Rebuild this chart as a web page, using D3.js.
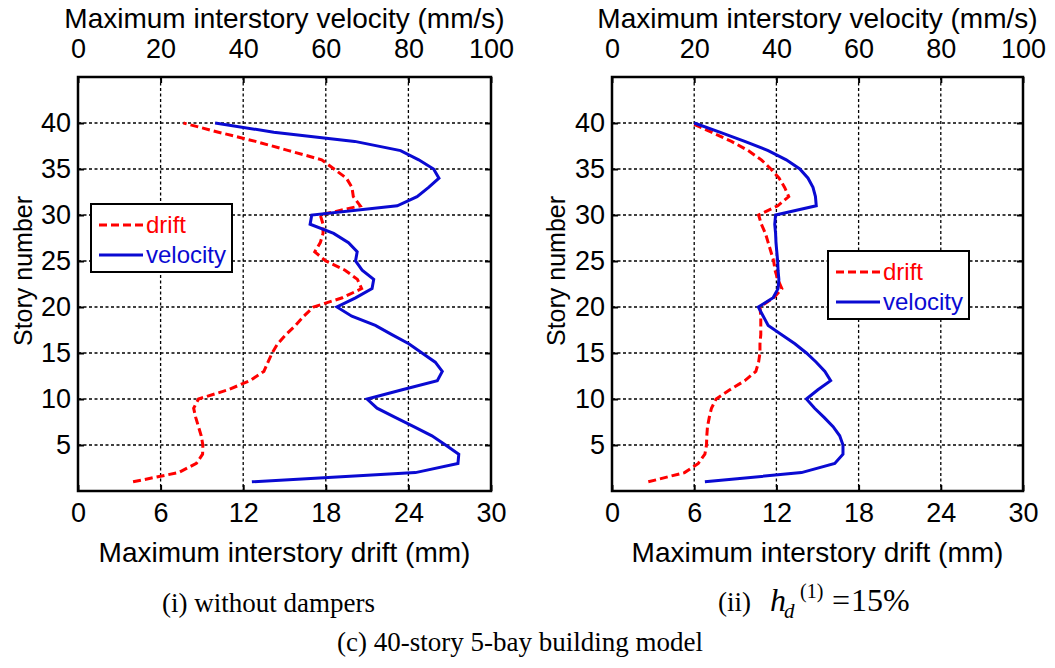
<!DOCTYPE html>
<html>
<head>
<meta charset="utf-8">
<script src="https://cdn.jsdelivr.net/npm/d3@7"></script>
<style>
  body { margin: 0; background: #fff; }
  svg text { font-family: "Liberation Sans", Arial, sans-serif; }
  svg text.caption { font-family: "Liberation Serif", "Times New Roman", serif; }
</style>
</head>
<body>
<div id="chart"></div>
<script>
// Data (story 1 -> story 40)
const stories = [1, 2, 3, 4, 5, 6, 7, 8, 9, 10, 11, 12, 13, 14, 15, 16, 17, 18, 19, 20,
  21, 22, 23, 24, 25, 26, 27, 28, 29, 30, 31, 32, 33, 34, 35, 36, 37, 38, 39, 40]

const driftNoDampers = [4.0, 7.3, 8.6, 9.05, 9.07, 8.95, 8.75, 8.55, 8.4, 8.75,
  10.9, 12.5, 13.5, 13.8, 14.1, 14.5, 15.1, 15.8, 16.4, 17.1,
  19.2, 20.6, 20.3, 19.4, 18.0, 17.2, 17.6, 17.8, 17.8, 17.6,
  20.5, 20.0, 19.9, 19.5, 18.6, 17.7, 15.3, 12.9, 10.2, 7.66]

const velocityNoDampers = [42.1, 81.7, 92.0, 92.2, 89.0, 85.7, 81.3, 76.8, 72.4, 70.0,
  78.5, 87.0, 88.2, 86.5, 83.3, 80.1, 76.0, 72.0, 66.3, 62.7,
  67.2, 71.2, 71.6, 68.8, 67.2, 67.6, 65.5, 61.9, 56.2, 56.6,
  77.3, 82.1, 84.9, 87.4, 86.1, 82.5, 78.1, 67.0, 47.4, 33.2]

const driftDampers = [2.65, 5.3, 6.3, 6.78, 6.9, 6.92, 6.97, 7.1, 7.26, 7.6,
  8.6, 9.7, 10.5, 10.7, 10.8, 10.8, 10.86, 10.86, 10.86, 10.8,
  11.8, 12.4, 12.1, 11.9, 11.8, 11.6, 11.4, 11.2, 10.9, 10.7,
  12.1, 12.9, 12.6, 12.2, 11.6, 10.9, 9.94, 8.72, 7.26, 5.76]

const velocityDampers = [22.6, 46.1, 54.2, 56.2, 56.2, 55.4, 53.8, 51.6, 49.3, 47.3,
  50.1, 53.2, 51.8, 49.7, 47.3, 44.5, 41.2, 38.0, 36.8, 35.6,
  39.2, 40.4, 40.6, 40.4, 40.3, 40.1, 39.9, 39.8, 39.6, 39.8,
  49.7, 49.5, 48.9, 47.7, 45.7, 42.4, 38.0, 32.3, 26.2, 20.0]

const seriesNames = ['drift', 'velocity']
const driftTicks = [0, 6, 12, 18, 24, 30]
const velocityTicks = [0, 20, 40, 60, 80, 100]
const storyTicks = [5, 10, 15, 20, 25, 30, 35, 40]

const driftTitle = 'Maximum interstory drift (mm)'
const velocityTitle = 'Maximum interstory velocity (mm/s)'
const storyTitle = 'Story number'

function draw() {
  // Dimensions
  let dimensions = {
    width: 1055,
    height: 668,
    top: 77,
    bottom: 491,
  }

  const red = '#ff0000'
  const blue = '#0a0ad2'

  const panels = [
    { left: 78, right: 491, drift: driftNoDampers, velocity: velocityNoDampers, legendX: 91, legendY: 204, labelX: 32 },
    { left: 612, right: 1023, drift: driftDampers, velocity: velocityDampers, legendX: 828, legendY: 251, labelX: 565 },
  ]

  const svg = d3.select('#chart')
    .append('svg')
    .attr('width', dimensions.width)
    .attr('height', dimensions.height)

  const y = d3.scaleLinear()
    .domain([0, 45])
    .range([dimensions.bottom, dimensions.top])

  panels.forEach(p => {
    const g = svg.append('g')

    // Scales
    const xDrift = d3.scaleLinear().domain([0, 30]).range([p.left, p.right])
    const xVel = d3.scaleLinear().domain([0, 100]).range([p.left, p.right])

    // Grid
    const grid = g.append('g')
      .attr('stroke', '#000')
      .attr('stroke-width', 1.3)
      .attr('stroke-dasharray', '3,2.5')
    grid.selectAll('.vgrid')
      .data(driftTicks.slice(1, -1))
      .join('line')
      .attr('x1', d => xDrift(d)).attr('x2', d => xDrift(d))
      .attr('y1', dimensions.top).attr('y2', dimensions.bottom)
    grid.selectAll('.hgrid')
      .data(storyTicks)
      .join('line')
      .attr('x1', p.left).attr('x2', p.right)
      .attr('y1', d => y(d)).attr('y2', d => y(d))

    // Lines
    const driftLine = d3.line()
      .x(d => xDrift(d[1]))
      .y(d => y(d[0]))
    const velLine = d3.line()
      .x(d => xVel(d[1]))
      .y(d => y(d[0]))

    g.append('path')
      .attr('d', driftLine(d3.zip(stories, p.drift)))
      .attr('fill', 'none')
      .attr('stroke', red)
      .attr('stroke-width', 3)
      .attr('stroke-dasharray', '8,4')
    g.append('path')
      .attr('d', velLine(d3.zip(stories, p.velocity)))
      .attr('fill', 'none')
      .attr('stroke', blue)
      .attr('stroke-width', 3)

    // Axes
    const styleAxis = (ax, size) => {
      ax.attr('font-family', null).attr('font-size', size)
      ax.select('.domain').remove()
      ax.selectAll('.tick line').attr('stroke-width', 2)
      ax.selectAll('.tick text').attr('fill', '#000')
    }

    g.append('g')
      .attr('transform', `translate(0, ${dimensions.bottom})`)
      .call(d3.axisBottom(xDrift).tickValues(driftTicks).tickSize(-6).tickPadding(12))
      .call(ax => styleAxis(ax, 27))
    g.append('g')
      .attr('transform', `translate(0, ${dimensions.top})`)
      .call(d3.axisTop(xVel).tickValues(velocityTicks).tickSize(-6).tickPadding(19))
      .call(ax => styleAxis(ax, 27))
    g.append('g')
      .attr('transform', `translate(${p.left}, 0)`)
      .call(d3.axisLeft(y).tickValues(storyTicks).tickSize(-6).tickPadding(7))
      .call(ax => styleAxis(ax, 27))
    g.append('g')
      .attr('transform', `translate(${p.right}, 0)`)
      .call(d3.axisRight(y).tickValues(storyTicks).tickSize(-6).tickFormat(''))
      .call(ax => styleAxis(ax, 27))

    // Box
    g.append('rect')
      .attr('x', p.left).attr('y', dimensions.top)
      .attr('width', p.right - p.left)
      .attr('height', dimensions.bottom - dimensions.top)
      .attr('fill', 'none')
      .attr('stroke', '#000')
      .attr('stroke-width', 2.5)

    // Titles
    const cx = (p.left + p.right) / 2
    g.append('text')
      .attr('x', cx).attr('y', 28)
      .attr('text-anchor', 'middle')
      .attr('font-size', 28)
      .text(velocityTitle)
    g.append('text')
      .attr('x', cx).attr('y', 562)
      .attr('text-anchor', 'middle')
      .attr('font-size', 28)
      .text(driftTitle)
    g.append('text')
      .attr('transform', `translate(${p.labelX}, 271) rotate(-90)`)
      .attr('text-anchor', 'middle')
      .attr('font-size', 25)
      .text(storyTitle)

    // Legend
    const legend = g.append('g')
      .attr('transform', `translate(${p.legendX}, ${p.legendY})`)
    legend.append('rect')
      .attr('width', 141).attr('height', 68)
      .attr('fill', '#fff')
      .attr('stroke', '#000')
      .attr('stroke-width', 2)
    const rows = legend.selectAll('.row')
      .data(seriesNames)
      .join('g')
      .attr('transform', (d, i) => `translate(0, ${21 + i * 30})`)
    rows.append('line')
      .attr('x1', 8).attr('x2', 52)
      .attr('stroke', (d, i) => i === 0 ? red : blue)
      .attr('stroke-width', 3)
      .attr('stroke-dasharray', (d, i) => i === 0 ? '8,4' : null)
    rows.append('text')
      .attr('x', 55)
      .attr('dy', '0.35em')
      .attr('font-size', 24)
      .attr('fill', (d, i) => i === 0 ? red : blue)
      .text(d => d)
  })

  // Captions
  svg.append('text')
    .classed('caption', true)
    .attr('x', 162).attr('y', 612)
    .attr('font-size', 27)
    .text('(i) without dampers')

  const cap2 = svg.append('text')
    .classed('caption', true)
    .attr('y', 611)
  cap2.append('tspan').attr('x', 718).attr('font-size', 27).text('(ii)')
  cap2.append('tspan').attr('x', 770).attr('font-size', 32).attr('font-style', 'italic').text('h')
  cap2.append('tspan').attr('x', 784).attr('y', 618).attr('font-size', 21).attr('font-style', 'italic').text('d')
  cap2.append('tspan').attr('x', 800).attr('y', 598).attr('font-size', 20).text('(1)')
  cap2.append('tspan').attr('x', 832).attr('y', 611).attr('font-size', 32).text('=')
  cap2.append('tspan').attr('x', 851).attr('font-size', 32).text('15%')

  svg.append('text')
    .classed('caption', true)
    .attr('x', 337).attr('y', 651)
    .attr('font-size', 27)
    .text('(c) 40-story 5-bay building model')
}

draw()
</script>
</body>
</html>
